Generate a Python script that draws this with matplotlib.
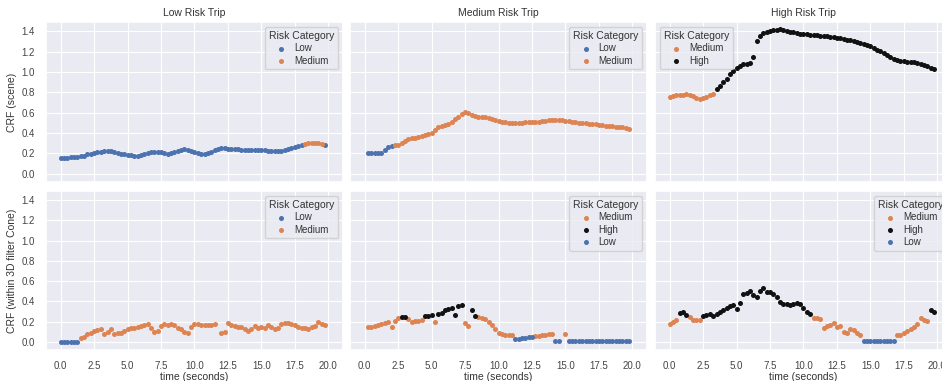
import numpy as np
import pandas as pd
import matplotlib
matplotlib.use("Agg")
import matplotlib.pyplot as plt
import seaborn as sns

# sampling step of the traces (seconds)
STEP = 0.25

trip_titles = ["Low Risk Trip", "Medium Risk Trip", "High Risk Trip"]
row_labels = ["CRF (scene)", "CRF (within 3D filter Cone)"]
risk_names = {"L": "Low", "M": "Medium", "H": "High"}
risk_colors = {"Low": "#4C72B0", "Medium": "#DD8452", "High": "#111111"}

# ---- CRF (scene) ----
scene_low = [
    0.155, 0.158, 0.160, 0.162, 0.165, 0.168, 0.172, 0.180, 0.190, 0.197,
    0.203, 0.210, 0.215, 0.220, 0.222, 0.220, 0.215, 0.205, 0.195, 0.190,
    0.188, 0.185, 0.180, 0.178, 0.185, 0.195, 0.205, 0.212, 0.218, 0.218,
    0.210, 0.200, 0.198, 0.205, 0.215, 0.225, 0.235, 0.240, 0.238, 0.228,
    0.215, 0.200, 0.195, 0.195, 0.200, 0.215, 0.230, 0.245, 0.255, 0.250,
    0.245, 0.243, 0.240, 0.240, 0.238, 0.235, 0.233, 0.232, 0.230, 0.230,
    0.230, 0.230, 0.228, 0.228, 0.228, 0.225, 0.228, 0.235, 0.245, 0.255,
    0.265, 0.275, 0.285, 0.292, 0.298, 0.300, 0.300, 0.298, 0.295, 0.280]
scene_low_risk = "L" * 73 + "M" * 6 + "L"

scene_med = [
    np.nan, 0.200, 0.200, 0.200, 0.200, 0.205, 0.235, 0.265, 0.270, 0.280,
    0.285, 0.300, 0.320, 0.345, 0.350, 0.350, 0.360, 0.370, 0.380, 0.390,
    0.405, 0.430, 0.455, 0.470, 0.480, 0.490, 0.510, 0.535, 0.560, 0.585,
    0.610, 0.600, 0.580, 0.565, 0.555, 0.560, 0.555, 0.550, 0.540, 0.525,
    0.515, 0.510, 0.505, 0.500, 0.500, 0.500, 0.500, 0.500, 0.505, 0.505,
    0.505, 0.510, 0.510, 0.515, 0.520, 0.525, 0.530, 0.530, 0.530, 0.525,
    0.520, 0.515, 0.510, 0.505, 0.500, 0.500, 0.495, 0.490, 0.490, 0.485,
    0.480, 0.475, 0.470, 0.468, 0.465, 0.462, 0.460, 0.455, 0.450, 0.440]
scene_med_risk = "L" * 9 + "M" * 71

scene_high = [
    0.755, 0.760, 0.770, 0.770, 0.775, 0.780, 0.770, 0.760, 0.740, 0.735,
    0.740, 0.750, 0.770, 0.785, 0.830, 0.860, 0.900, 0.935, 0.980, 1.010,
    1.040, 1.060, 1.075, 1.080, 1.085, 1.150, 1.300, 1.350, 1.380, 1.395,
    1.405, 1.410, 1.415, 1.420, 1.410, 1.400, 1.395, 1.390, 1.385, 1.375,
    1.370, 1.370, 1.365, 1.365, 1.360, 1.355, 1.350, 1.350, 1.345, 1.340,
    1.335, 1.330, 1.325, 1.315, 1.310, 1.300, 1.290, 1.280, 1.270, 1.260,
    1.250, 1.235, 1.220, 1.205, 1.190, 1.170, 1.145, 1.125, 1.115, 1.110,
    1.105, 1.100, 1.100, 1.100, 1.090, 1.080, 1.070, 1.055, 1.040, 1.030]
scene_high_risk = "M" * 14 + "H" * 66

# ---- CRF (within 3D filter cone) ----
cone_low = [
    0.000, 0.000, 0.000, 0.000, 0.000, 0.000, 0.040, 0.050, 0.080, 0.090,
    0.110, 0.120, 0.125, 0.080, 0.100, 0.125, 0.080, 0.085, 0.090, 0.110,
    0.130, 0.135, 0.140, 0.150, 0.160, 0.165, 0.175, 0.140, 0.100, 0.110,
    0.160, 0.175, 0.170, 0.175, 0.170, 0.140, 0.125, 0.100, 0.090, 0.150,
    0.180, 0.175, 0.170, 0.170, 0.165, 0.170, 0.175, np.nan, 0.090, 0.100,
    0.190, 0.170, 0.160, 0.150, 0.145, 0.125, 0.110, 0.130, 0.160, 0.140,
    0.145, 0.140, 0.170, 0.150, 0.130, 0.140, 0.175, 0.190, 0.185, 0.180,
    0.165, 0.150, 0.140, 0.135, 0.125, 0.150, 0.160, 0.200, 0.180, 0.170]
cone_low_risk = "L" * 6 + "M" * 74

cone_med = [
    np.nan, 0.150, 0.150, 0.160, 0.170, 0.180, 0.190, 0.200, 0.150, 0.210,
    0.240, 0.250, 0.250, 0.230, 0.200, 0.210, 0.210, 0.220, 0.260, 0.260,
    0.265, 0.200, 0.275, 0.290, 0.310, 0.320, 0.335, 0.270, 0.350, 0.360,
    0.190, 0.160, 0.310, 0.260, 0.250, 0.240, 0.225, 0.200, 0.170, 0.125,
    0.090, 0.080, 0.070, 0.070, 0.070, 0.025, 0.030, 0.035, 0.040, 0.045,
    0.050, 0.055, 0.060, 0.065, 0.070, 0.075, 0.080, 0.010, 0.010, np.nan,
    0.075, 0.010, 0.010, 0.010, 0.010, 0.010, 0.010, 0.010, 0.010, 0.010,
    0.010, 0.010, 0.010, 0.010, 0.010, 0.010, 0.010, 0.010, 0.010, 0.010]
cone_med_risk = ("M" * 11 + "HH" + "M" * 5 + "HHH" + "M" + "H" * 8 + "MM" + "HH"
                 + "M" * 11 + "L" * 6 + "M" * 6 + "LLL" + "M" + "L" * 19)

cone_high = [
    0.180, 0.200, 0.220, 0.290, 0.300, 0.270, 0.250, 0.220, 0.215, 0.220,
    0.260, 0.270, 0.275, 0.260, 0.280, 0.300, 0.310, 0.335, 0.350, 0.360,
    0.320, 0.380, 0.470, 0.480, 0.500, 0.460, 0.440, 0.500, 0.530, 0.490,
    0.490, 0.470, 0.440, 0.390, 0.370, 0.370, 0.365, 0.370, 0.385, 0.370,
    0.330, 0.300, 0.275, 0.240, 0.240, 0.230, 0.140, 0.160, 0.170, 0.190,
    0.150, 0.155, 0.100, 0.090, 0.125, 0.120, 0.090, 0.070, 0.010, 0.010,
    0.010, 0.010, 0.010, 0.010, 0.010, 0.010, 0.010, 0.010, 0.070, 0.070,
    0.090, 0.110, 0.130, 0.150, 0.175, 0.240, 0.220, 0.210, 0.310, 0.300]
cone_high_risk = "MMM" + "HHH" + "M" * 4 + "H" * 33 + "M" * 15 + "L" * 10 + "M" * 10 + "HH"

rows = [
    [(scene_low, scene_low_risk), (scene_med, scene_med_risk), (scene_high, scene_high_risk)],
    [(cone_low, cone_low_risk), (cone_med, cone_med_risk), (cone_high, cone_high_risk)],
]
legend_loc = [["upper right", "upper right", "upper left"],
              ["upper right", "upper right", "upper right"]]

sns.set_theme(style="darkgrid", rc={"grid.linewidth": 0.8})
plt.rcParams["font.family"] = ["Liberation Sans", "DejaVu Sans"]

fig = plt.figure(figsize=(9.42, 3.81), dpi=100)

col_left = [0.0488, 0.3716, 0.6953]
col_w = 0.3153
row_bottom = [0.5223, 0.0814]
row_h = [0.420, 0.4173]

for r in range(2):
    for c in range(3):
        ax = fig.add_axes([col_left[c], row_bottom[r], col_w, row_h[r]])
        vals, risk = rows[r][c]
        df = pd.DataFrame({
            "time": np.arange(len(vals)) * STEP,
            "crf": vals,
            "risk": [risk_names[k] for k in risk],
        }).dropna()
        order = list(dict.fromkeys(df["risk"]))
        for name in order:
            sub = df[df["risk"] == name]
            ax.scatter(sub["time"], sub["crf"], s=13, color=risk_colors[name],
                       linewidths=0, label=name, zorder=3)

        ax.set_xlim(-1.1, 21.1)
        ax.set_ylim(-0.08, 1.49)
        ax.set_xticks(np.arange(0, 20.1, 2.5))
        ax.set_yticks(np.arange(0, 1.41, 0.2))
        ax.tick_params(labelsize=7, pad=2, colors="#444444")
        if c == 0:
            ax.set_yticklabels([f"{v:.1f}" for v in np.arange(0, 1.41, 0.2)])
            ax.set_ylabel(row_labels[r], fontsize=7.5, color="#333333", labelpad=3)
        else:
            ax.set_yticklabels([])
        if r == 1:
            ax.set_xticklabels([f"{v:.1f}" for v in np.arange(0, 20.1, 2.5)])
            ax.set_xlabel("time (seconds)", fontsize=7.5, color="#333333", labelpad=1)
        else:
            ax.set_xticklabels([])
            ax.set_title(trip_titles[c], fontsize=7.5, color="#333333", pad=4)

        leg = ax.legend(title="Risk Category", loc=legend_loc[r][c], fontsize=7,
                        title_fontsize=7.5, markerscale=1.0, handletextpad=0.6,
                        borderpad=0.4, labelspacing=0.25, handlelength=1.5,
                        frameon=True)
        leg.get_title().set_color("#333333")
        for txt in leg.get_texts():
            txt.set_color("#333333")

fig.savefig("out.png", dpi=100)
